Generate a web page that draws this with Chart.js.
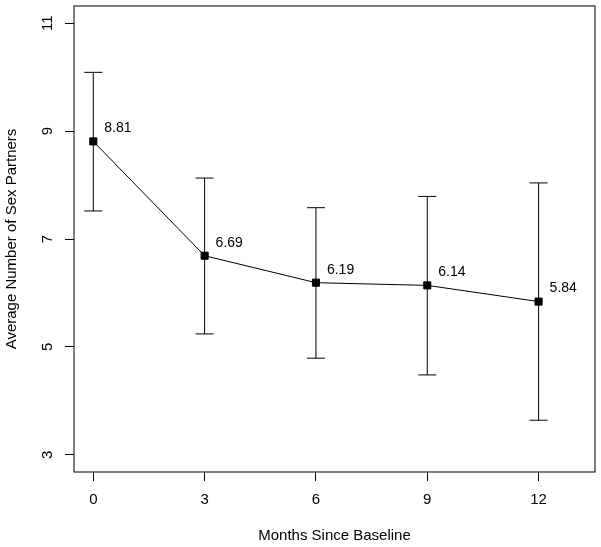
<!DOCTYPE html>
<html>
<head>
<meta charset="utf-8">
<script src="https://cdn.jsdelivr.net/npm/chart.js@4"></script>
<style>
  html, body { margin: 0; padding: 0; background: #fff; }
  #wrap { width: 601px; height: 547px; }
</style>
</head>
<body>
<div id="wrap"><canvas id="partners"></canvas></div>
<script>
// data
const months = [0, 3, 6, 9, 12];
const means = [8.81, 6.69, 6.19, 6.14, 5.84];
const upper = [10.09, 8.13, 7.58, 7.79, 8.04];
const lower = [7.52, 5.24, 4.79, 4.48, 3.64];
const xTicks = [0, 3, 6, 9, 12];
const yTicks = [3, 5, 7, 9, 11];

const FONT = "'Liberation Sans', Arial, Helvetica, sans-serif";

// error bars with caps
const errorBars = {
  id: 'errorBars',
  afterDatasetsDraw(chart) {
    const {ctx, scales: {x, y}} = chart;
    ctx.save();
    ctx.strokeStyle = '#000';
    ctx.lineWidth = 1;
    months.forEach((m, i) => {
      const px = x.getPixelForValue(m);
      const yt = y.getPixelForValue(upper[i]);
      const yb = y.getPixelForValue(lower[i]);
      ctx.beginPath();
      ctx.moveTo(px, yt); ctx.lineTo(px, yb);
      ctx.moveTo(px - 9, yt); ctx.lineTo(px + 9, yt);
      ctx.moveTo(px - 9, yb); ctx.lineTo(px + 9, yb);
      ctx.stroke();
    });
    ctx.restore();
  }
};

// value labels next to the points, box around plot, rotated y tick labels
const decorations = {
  id: 'decorations',
  afterDraw(chart) {
    const {ctx, chartArea, scales: {x, y}} = chart;
    ctx.save();
    ctx.fillStyle = '#000';
    ctx.font = '14px ' + FONT;
    ctx.textAlign = 'left';
    ctx.textBaseline = 'middle';
    months.forEach((m, i) => {
      ctx.fillText(means[i].toFixed(2), x.getPixelForValue(m) + 11, y.getPixelForValue(means[i]) - 13);
    });

    ctx.font = '15px ' + FONT;
    ctx.textAlign = 'center';
    yTicks.forEach(v => {
      ctx.save();
      ctx.translate(48, y.getPixelForValue(v));
      ctx.rotate(-Math.PI / 2);
      ctx.fillText(String(v), 0, 0);
      ctx.restore();
    });

    ctx.strokeStyle = '#000';
    ctx.lineWidth = 1;
    ctx.strokeRect(chartArea.left, chartArea.top, chartArea.right - chartArea.left, chartArea.bottom - chartArea.top);
    ctx.restore();
  }
};

new Chart(document.getElementById('partners'), {
  type: 'scatter',
  data: {
    datasets: [{
      data: months.map((m, i) => ({x: m, y: means[i]})),
      showLine: true,
      borderColor: '#000',
      borderWidth: 1,
      backgroundColor: '#000',
      pointStyle: 'rect',
      pointRadius: 5,
      pointHoverRadius: 5
    }]
  },
  options: {
    responsive: true,
    maintainAspectRatio: false,
    animation: false,
    events: [],
    layout: { padding: { left: 0, top: 6, right: 6, bottom: 0 } },
    plugins: { legend: { display: false }, tooltip: { enabled: false } },
    scales: {
      x: {
        type: 'linear',
        min: -0.52,
        max: 13.52,
        afterBuildTicks: s => { s.ticks = xTicks.map(v => ({value: v})); },
        afterFit: s => { s.height = 75; },
        grid: { drawOnChartArea: false, drawTicks: true, tickLength: 9, color: '#000' },
        border: { display: false },
        ticks: { color: '#000', font: { size: 15, family: FONT }, padding: 10, maxRotation: 0 },
        title: { display: true, text: 'Months Since Baseline', color: '#000', font: { size: 15, family: FONT }, padding: { top: 0, bottom: 2 } }
      },
      y: {
        type: 'linear',
        min: 2.68,
        max: 11.32,
        afterBuildTicks: s => { s.ticks = yTicks.map(v => ({value: v})); },
        afterFit: s => { s.width = 74; },
        grid: { drawOnChartArea: false, drawTicks: true, tickLength: 9, color: '#000' },
        border: { display: false },
        ticks: { display: false },
        title: { display: true, text: 'Average Number of Sex Partners', color: '#000', font: { size: 15, family: FONT }, padding: { top: 3, bottom: 0 } }
      }
    }
  },
  plugins: [errorBars, decorations]
});
</script>
</body>
</html>
